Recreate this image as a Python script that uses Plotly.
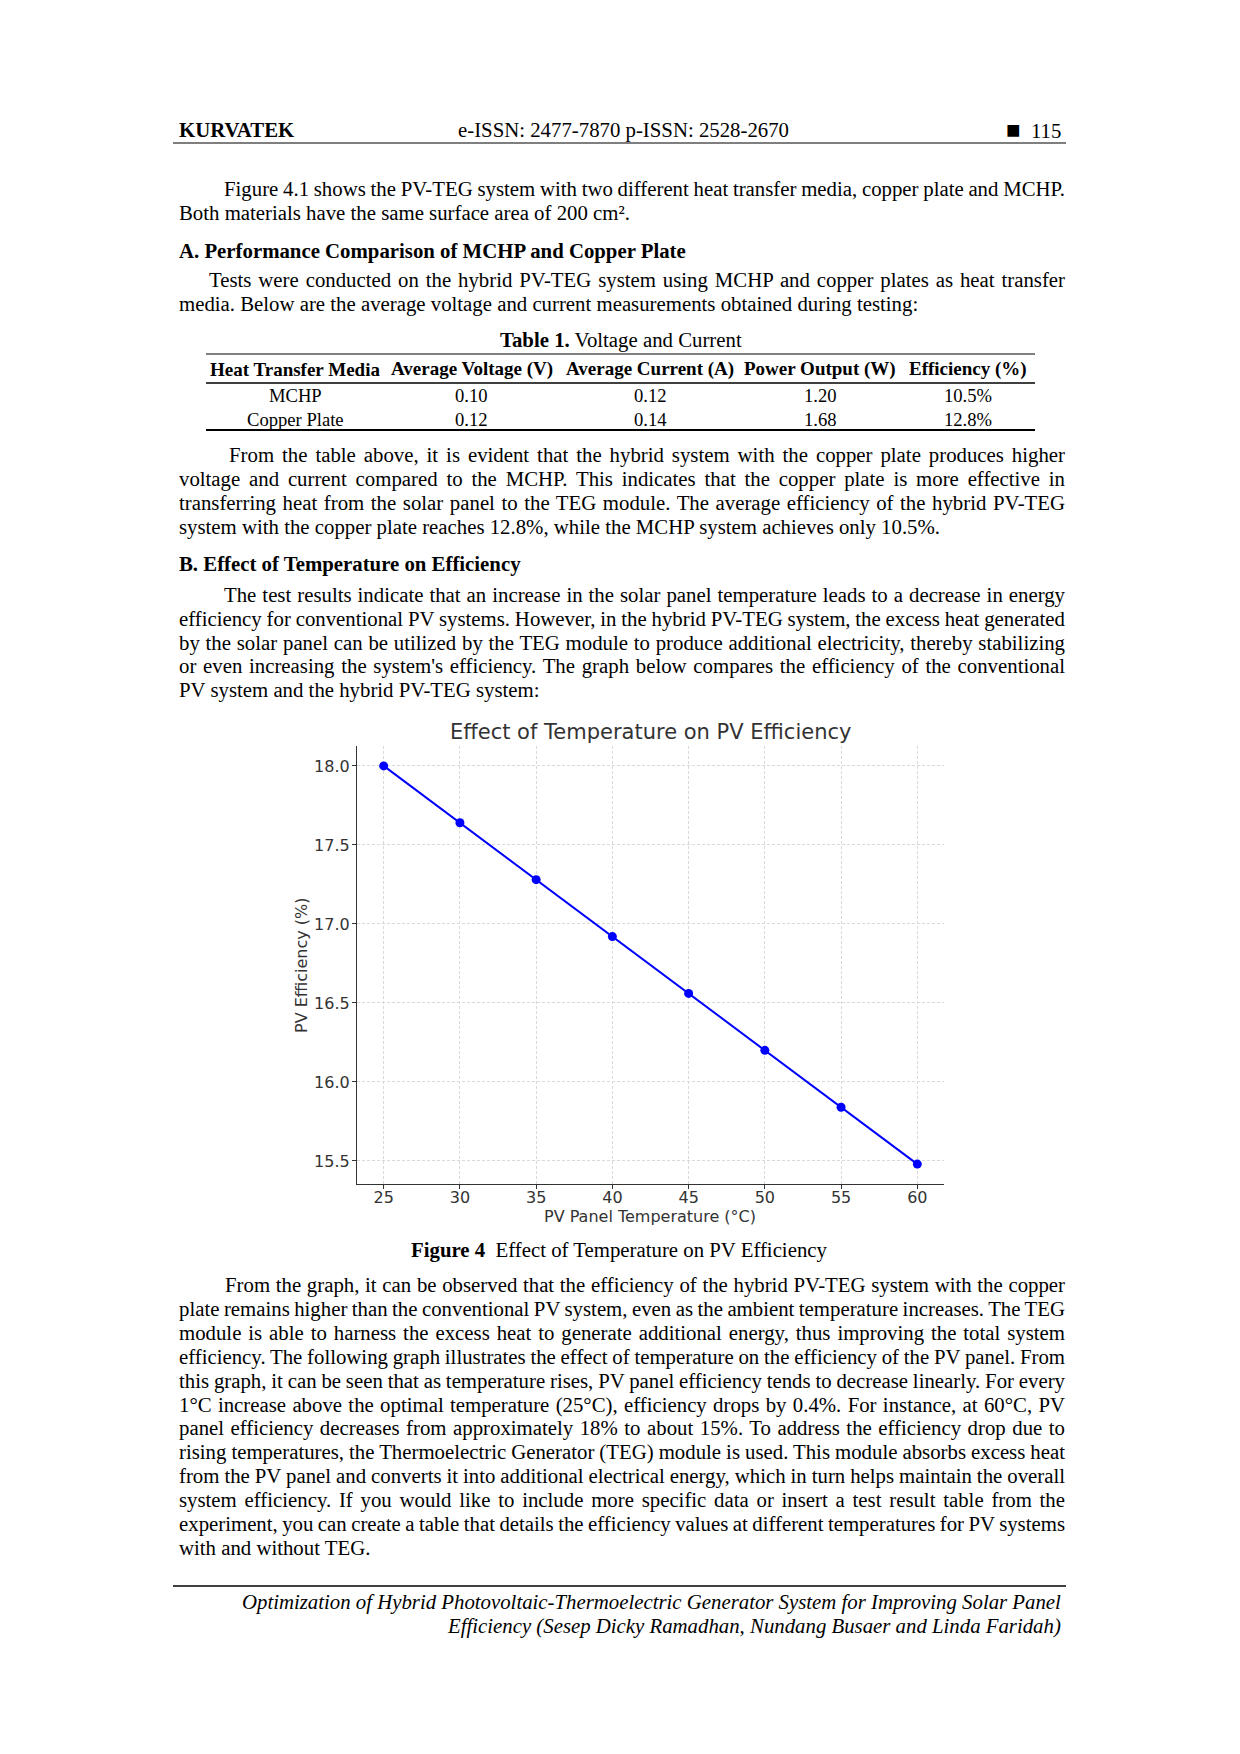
import json
import plotly.graph_objects as go

# chart data
temperature = [25, 30, 35, 40, 45, 50, 55, 60]
efficiency = [18.00, 17.64, 17.28, 16.92, 16.56, 16.20, 15.84, 15.48]
x_ticks = [25, 30, 35, 40, 45, 50, 55, 60]
y_ticks = [15.5, 16.0, 16.5, 17.0, 17.5, 18.0]

# table 1
table_headers = ["Heat Transfer Media", "Average Voltage (V)", "Average Current (A)",
                 "Power Output (W)", "Efficiency (%)"]
media = ["MCHP", "Copper Plate"]
avg_voltage = ["0.10", "0.12"]
avg_current = ["0.12", "0.14"]
power_output = ["1.20", "1.68"]
eff_pct = ["10.5%", "12.8%"]

W, H = 1240, 1754
SERIF = "Liberation Serif"
SANS = "DejaVu Sans"
INK = "#333333"
BODY = 20.8
LEFT, RIGHT = 177, 1063


def px(x):
    return x / W


def py(y):
    return 1 - y / H


fig = go.Figure()
fig.add_trace(go.Scatter(
    x=temperature, y=efficiency, mode="lines+markers",
    line=dict(color="#0000ff", width=2),
    marker=dict(color="#0000ff", size=9),
))

annotations = []
justified = []  # (annotation index, target width in px)


def text(x, y, s, size=BODY, anchor="left", font=SERIF, color="black", **kw):
    annotations.append(dict(
        x=px(x), y=py(y), xref="paper", yref="paper", text=s, showarrow=False,
        xanchor=anchor, yanchor="middle", font=dict(family=font, size=size, color=color), **kw))


def lines(x0, y0, step, rows, indent):
    # paragraph: every line but the last is justified to the right margin
    for i, s in enumerate(rows):
        x = x0 + (indent if i == 0 else 0)
        text(x, y0 + i * step, s, align="left")
        if i < len(rows) - 1:
            justified.append([len(annotations) - 1, RIGHT - x])


shapes = []


def hline(y, x0, x1, width=1):
    shapes.append(dict(type="line", xref="paper", yref="paper", x0=px(x0), x1=px(x1),
                       y0=py(y), y1=py(y), line=dict(color="black", width=width)))


# page header
text(LEFT, 130, "<b>KURVATEK</b>")
text(624, 130, "e-ISSN: 2477-7870 p-ISSN: 2528-2670", anchor="center")
text(RIGHT, 130, "<span style='font-size:24px'>■</span>  115", anchor="right")
hline(143, 173, 1066, 1.2)

lines(LEFT, 189, 24, [
    "Figure 4.1 shows the PV-TEG system with two different heat transfer media, copper plate and MCHP.",
    "Both materials have the same surface area of 200 cm².",
], 45)

text(LEFT, 251, "<b>A. Performance Comparison of MCHP and Copper Plate</b>")
lines(LEFT, 280, 24, [
    "Tests were conducted on the hybrid PV-TEG system using MCHP and copper plates as heat transfer",
    "media. Below are the average voltage and current measurements obtained during testing:",
], 30)

# table 1
text(621, 340, "<b>Table 1.</b> Voltage and Current", anchor="center")
hline(354, 206, 1035, 1)
hline(383, 206, 1035, 1.6)
hline(430, 206, 1035, 2)
col_x = [295, 472, 650, 820, 968]
for cx, h in zip(col_x, table_headers):
    text(cx, 369, "<b>" + h + "</b>", size=19, anchor="center")
for r in range(2):
    row = [media[r], avg_voltage[r], avg_current[r], power_output[r], eff_pct[r]]
    for cx, v in zip(col_x, row):
        text(cx, 396 + r * 24, v, size=18.6, anchor="center")

lines(LEFT, 455, 24, [
    "From the table above, it is evident that the hybrid system with the copper plate produces higher",
    "voltage and current compared to the MCHP. This indicates that the copper plate is more effective in",
    "transferring heat from the solar panel to the TEG module. The average efficiency of the hybrid PV-TEG",
    "system with the copper plate reaches 12.8%, while the MCHP system achieves only 10.5%.",
], 50)

text(LEFT, 564, "<b>B. Effect of Temperature on Efficiency</b>")
lines(LEFT, 595, 23.8, [
    "The test results indicate that an increase in the solar panel temperature leads to a decrease in energy",
    "efficiency for conventional PV systems. However, in the hybrid PV-TEG system, the excess heat generated",
    "by the solar panel can be utilized by the TEG module to produce additional electricity, thereby stabilizing",
    "or even increasing the system's efficiency. The graph below compares the efficiency of the conventional",
    "PV system and the hybrid PV-TEG system:",
], 45)

# chart texts
text(650.5, 732, "Effect of Temperature on PV Efficiency", size=21, anchor="center", font=SANS, color=INK)
text(650.5, 1216, "PV Panel Temperature (°C)", size=16, anchor="center", font=SANS, color=INK)
text(301, 965, "PV Efficiency (%)", size=16, anchor="center", font=SANS, color=INK, textangle=-90)

text(619, 1250, "<b>Figure 4</b>  Effect of Temperature on PV Efficiency", anchor="center")

lines(LEFT, 1285, 23.9, [
    "From the graph, it can be observed that the efficiency of the hybrid PV-TEG system with the copper",
    "plate remains higher than the conventional PV system, even as the ambient temperature increases. The TEG",
    "module is able to harness the excess heat to generate additional energy, thus improving the total system",
    "efficiency. The following graph illustrates the effect of temperature on the efficiency of the PV panel. From",
    "this graph, it can be seen that as temperature rises, PV panel efficiency tends to decrease linearly. For every",
    "1°C increase above the optimal temperature (25°C), efficiency drops by 0.4%. For instance, at 60°C, PV",
    "panel efficiency decreases from approximately 18% to about 15%. To address the efficiency drop due to",
    "rising temperatures, the Thermoelectric Generator (TEG) module is used. This module absorbs excess heat",
    "from the PV panel and converts it into additional electrical energy, which in turn helps maintain the overall",
    "system efficiency. If you would like to include more specific data or insert a test result table from the",
    "experiment, you can create a table that details the efficiency values at different temperatures for PV systems",
    "with and without TEG.",
], 46)

# page footer
hline(1586, 173, 1066, 1.5)
text(RIGHT, 1602, "<i>Optimization of Hybrid Photovoltaic-Thermoelectric Generator System for Improving Solar Panel</i>",
     anchor="right")
text(RIGHT, 1626, "<i>Efficiency (Sesep Dicky Ramadhan, Nundang Busaer and Linda Faridah)</i>", anchor="right")

axis_style = dict(
    showline=True, linecolor=INK, linewidth=1.2, mirror=False,
    ticks="outside", ticklen=4, tickcolor=INK, tickwidth=1,
    showgrid=True, gridcolor="#d9d9d9", gridwidth=1, griddash="3px,2px",
    zeroline=False, tickfont=dict(family=SANS, size=16, color=INK),
)

fig.update_layout(
    width=W, height=H, autosize=False,
    margin=dict(l=0, r=0, t=0, b=0),
    paper_bgcolor="white", plot_bgcolor="white",
    showlegend=False,
    xaxis=dict(domain=[px(357), px(944)], range=[23.25, 61.75], tickvals=x_ticks,
               ticklabelstandoff=-5, **axis_style),
    yaxis=dict(domain=[py(1184), py(746)], range=[15.354, 18.126], tickvals=y_ticks,
               tickformat=".1f", ticklabelstandoff=-1, **axis_style),
    annotations=annotations,
    shapes=shapes,
)

# page margin off, and justify paragraph lines by adjusting word spacing
post = """
document.body.style.margin = '0px';
var gd = document.getElementById('{plot_id}');
var J = JUSTIFY;
function justify() {
  J.forEach(function (p) {
    var t = gd.querySelector('g.annotation[data-index="' + p[0] + '"] text.annotation-text');
    if (!t) return;
    t.style.wordSpacing = '0px';
    var n = (t.textContent.match(/ /g) || []).length;
    if (!n) return;
    var w = t.getComputedTextLength();
    t.style.wordSpacing = ((p[1] - w) / n) + 'px';
  });
}
justify();
gd.on('plotly_afterplot', justify);
""".replace("JUSTIFY", json.dumps(justified))

fig.write_html("out.html", config={"displayModeBar": False}, post_script=post)
